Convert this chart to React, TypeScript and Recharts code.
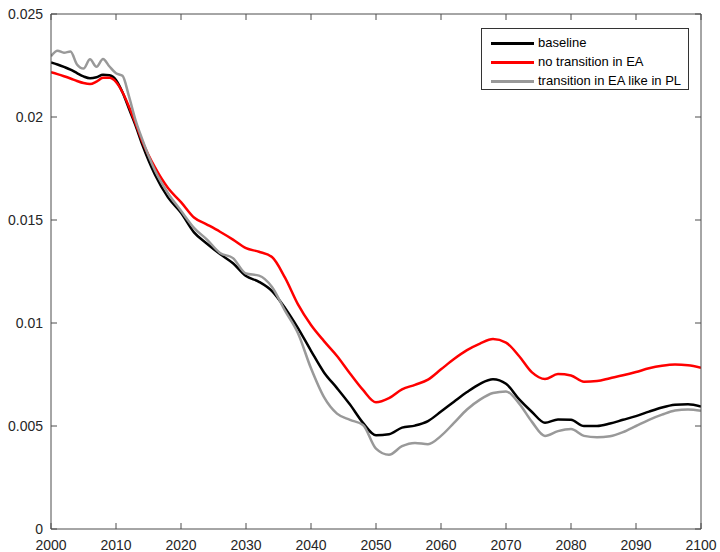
import React from 'react';
import { LineChart, Line, XAxis, YAxis, Legend } from 'recharts';

const years = [
  2000, 2001, 2002, 2003, 2004, 2005, 2006, 2007, 2008, 2009, 2010, 2011, 2012, 2013, 2014,
  2016, 2018, 2020, 2022, 2024, 2026, 2028, 2030, 2032, 2034, 2036, 2038, 2040, 2042, 2044,
  2046, 2048, 2050, 2052, 2054, 2056, 2058, 2060, 2062, 2064, 2066, 2068, 2070, 2072, 2074,
  2076, 2078, 2080, 2082, 2084, 2086, 2088, 2090, 2092, 2094, 2096, 2098, 2100,
];

const baseline = [
  0.02265, 0.02255, 0.02243, 0.0223, 0.02213, 0.02197, 0.02188, 0.02193, 0.02205, 0.02203, 0.0218, 0.0212, 0.0204, 0.0196, 0.0187,
  0.0172, 0.0161, 0.01535, 0.0144, 0.01385, 0.01335, 0.0129, 0.01228, 0.012, 0.01155, 0.01073, 0.00975, 0.00865, 0.0076, 0.00684,
  0.00604, 0.00515, 0.00455, 0.0046, 0.00492, 0.00502, 0.00524, 0.0057, 0.00618, 0.00665, 0.00705, 0.00727, 0.00705, 0.0063, 0.00568,
  0.00516, 0.00532, 0.0053, 0.005, 0.005, 0.00512, 0.0053, 0.00548, 0.0057, 0.0059, 0.00603, 0.00606, 0.00594,
];

const noTransition = [
  0.02217, 0.02208, 0.02198, 0.02187, 0.02175, 0.02165, 0.0216, 0.02172, 0.0219, 0.0219, 0.0217, 0.0212, 0.0205, 0.0197, 0.01885,
  0.01755, 0.01655, 0.01587, 0.01512, 0.01478, 0.01443, 0.01405, 0.01363, 0.01346, 0.0132, 0.0122, 0.0109, 0.0099, 0.00912, 0.0084,
  0.00755, 0.00675, 0.00615, 0.00635, 0.00678, 0.007, 0.00725, 0.00775, 0.00825, 0.00868, 0.009, 0.00922, 0.00905, 0.0084, 0.0076,
  0.00728, 0.00752, 0.00745, 0.00715, 0.00718, 0.00732, 0.00746, 0.00762, 0.0078, 0.00792, 0.00798, 0.00795, 0.00783,
];

const likePL = [
  0.02295, 0.02322, 0.02312, 0.02318, 0.02255, 0.02235, 0.0228, 0.02244, 0.02282, 0.02245, 0.02212, 0.022, 0.021, 0.01985, 0.01895,
  0.0174, 0.0163, 0.01545, 0.01462, 0.01405, 0.0134, 0.01315, 0.0124, 0.0123, 0.01175, 0.0106, 0.0095, 0.0078, 0.0064, 0.0056,
  0.0053, 0.00505, 0.0039, 0.0036, 0.00402, 0.00418, 0.00412, 0.00452, 0.00515, 0.0058, 0.00628, 0.0066, 0.00668, 0.0061, 0.0052,
  0.00452, 0.00475, 0.00485, 0.00452, 0.00445, 0.0045, 0.0047, 0.005, 0.0053, 0.00555, 0.00575, 0.0058, 0.00574,
];

const xTicks = [2000, 2010, 2020, 2030, 2040, 2050, 2060, 2070, 2080, 2090, 2100];
const yTicks = [0, 0.005, 0.01, 0.015, 0.02, 0.025];

const seriesNames = ['baseline', 'no transition in EA', 'transition in EA like in PL'];

const data = years.map((year, i) => ({
  year,
  baseline: baseline[i],
  noTransition: noTransition[i],
  likePL: likePL[i],
}));

const FONT = '"Liberation Sans", Arial, Helvetica, sans-serif';
const AXIS = '#4d4d4d';
const TXT = '#262626';

const BottomTick = (props: any) => {
  const { x, y, payload } = props;
  return (
    <g>
      <line x1={x} y1={y} x2={x} y2={y - 6} stroke={AXIS} />
      <text x={x} y={y + 21} textAnchor="middle" fill={TXT} fontSize={14} fontFamily={FONT}>
        {payload.value}
      </text>
    </g>
  );
};

const LeftTick = (props: any) => {
  const { x, y, payload } = props;
  return (
    <g>
      <line x1={x} y1={y} x2={x + 6} y2={y} stroke={AXIS} />
      <text x={x - 8} y={y + 5} textAnchor="end" fill={TXT} fontSize={14} fontFamily={FONT}>
        {payload.value}
      </text>
    </g>
  );
};

const TopTick = (props: any) => {
  const { x, y } = props;
  return <line x1={x} y1={y} x2={x} y2={y + 6} stroke={AXIS} />;
};

const RightTick = (props: any) => {
  const { x, y } = props;
  return <line x1={x} y1={y} x2={x - 6} y2={y} stroke={AXIS} />;
};

const renderLegend = (props: any) => {
  const { payload } = props;
  return (
    <div
      style={{
        position: 'relative',
        width: 206,
        height: 60,
        border: '1px solid #333',
        background: '#fff',
        fontFamily: FONT,
        fontSize: 13,
      }}
    >
      {(payload || []).map((entry: any, i: number) => (
        <div key={i} style={{ position: 'absolute', left: 0, top: 5 + i * 19, height: 19, width: 206 }}>
          <div
            style={{
              position: 'absolute',
              left: 9,
              top: 8,
              width: 43,
              height: 3,
              background: entry.color,
            }}
          />
          <span style={{ position: 'absolute', left: 56, top: 1, color: '#000', whiteSpace: 'nowrap' }}>
            {entry.value}
          </span>
        </div>
      ))}
    </div>
  );
};

export default function App() {
  return (
    <div style={{ position: 'absolute', left: 0, top: 0, width: 720, height: 552 }}>
      <LineChart width={720} height={552} data={data} margin={{ top: 8, right: 0, left: 0, bottom: 0 }}>
        <XAxis
          dataKey="year"
          type="number"
          domain={[2000, 2100]}
          ticks={xTicks}
          allowDataOverflow
          height={23}
          tickSize={0}
          tickMargin={0}
          tickLine={false}
          axisLine={{ stroke: AXIS }}
          tick={BottomTick}
          interval={0}
        />
        <XAxis
          xAxisId="top"
          orientation="top"
          dataKey="year"
          type="number"
          domain={[2000, 2100]}
          ticks={xTicks}
          allowDataOverflow
          height={6}
          tickSize={0}
          tickMargin={0}
          tickLine={false}
          axisLine={{ stroke: AXIS }}
          tick={TopTick}
          interval={0}
        />
        <YAxis
          type="number"
          domain={[0, 0.025]}
          ticks={yTicks}
          allowDataOverflow
          width={51}
          tickSize={0}
          tickMargin={0}
          tickLine={false}
          axisLine={{ stroke: AXIS }}
          tick={LeftTick}
          interval={0}
        />
        <YAxis
          yAxisId="right"
          orientation="right"
          type="number"
          domain={[0, 0.025]}
          ticks={yTicks}
          allowDataOverflow
          width={19}
          tickSize={0}
          tickMargin={0}
          tickLine={false}
          axisLine={{ stroke: AXIS }}
          tick={RightTick}
          interval={0}
        />
        <Legend
          layout="vertical"
          align="center"
          verticalAlign="middle"
          content={renderLegend}
          wrapperStyle={{ left: 481, top: 28, width: 208 }}
        />
        <Line
          type="monotone"
          dataKey="baseline"
          name={seriesNames[0]}
          stroke="#000000"
          strokeWidth={2.5}
          dot={false}
          isAnimationActive={false}
        />
        <Line
          type="monotone"
          dataKey="noTransition"
          name={seriesNames[1]}
          stroke="#ff0000"
          strokeWidth={2.5}
          dot={false}
          isAnimationActive={false}
        />
        <Line
          type="monotone"
          dataKey="likePL"
          name={seriesNames[2]}
          stroke="#999999"
          strokeWidth={2.5}
          dot={false}
          isAnimationActive={false}
        />
      </LineChart>
    </div>
  );
}
